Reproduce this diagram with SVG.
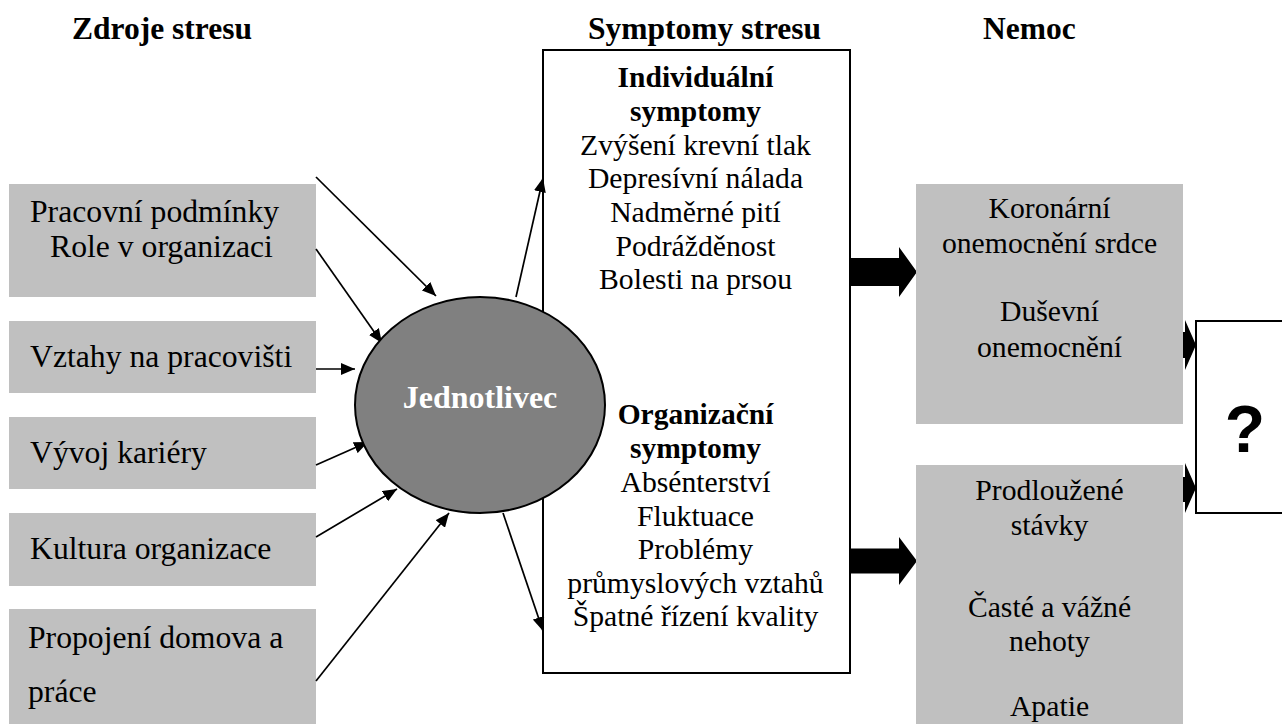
<svg xmlns="http://www.w3.org/2000/svg" width="1282" height="724" viewBox="0 0 1282 724">
<style>
.hdr{font-family:"Liberation Serif","Times New Roman",serif;font-weight:bold;font-size:31.5px;fill:#000}
.t{font-family:"Liberation Serif","Times New Roman",serif;font-size:29.7px;fill:#000}
.tl{font-family:"Liberation Serif","Times New Roman",serif;font-size:31.7px;fill:#000}
.tb{font-family:"Liberation Serif","Times New Roman",serif;font-size:29.5px;font-weight:bold;fill:#000}
.c{text-anchor:middle}
.gray{fill:#c0c0c0}
.ln{stroke:#000;stroke-width:1.7;fill:none}
.blk{fill:#000}
</style>
<defs>
<marker id="ah" viewBox="0 0 14 12" refX="14" refY="6" markerWidth="14" markerHeight="12" markerUnits="userSpaceOnUse" orient="auto">
<path d="M0,0 L14,6 L0,12 Z" fill="#000"/>
</marker>
</defs>
<rect width="1282" height="724" fill="#fff"/>
<g id="headers">
<text class="hdr" x="72" y="39">Zdroje stresu</text>
<text class="hdr" x="588" y="39">Symptomy stresu</text>
<text class="hdr" x="983" y="39">Nemoc</text>
</g>
<g id="symptoms">
<rect x="543" y="50" width="307" height="623" fill="#fff" stroke="#000" stroke-width="2"/>
<text class="tb c" x="695.5" y="87">Individuální</text>
<text class="tb c" x="695.5" y="120.5">symptomy</text>
<text class="t c" x="695.5" y="154.5">Zvýšení krevní tlak</text>
<text class="t c" x="695.5" y="188">Depresívní nálada</text>
<text class="t c" x="695.5" y="222">Nadměrné pití</text>
<text class="t c" x="695.5" y="255.5">Podrážděnost</text>
<text class="t c" x="695.5" y="289">Bolesti na prsou</text>
<text class="tb c" x="695.5" y="424">Organizační</text>
<text class="tb c" x="695.5" y="458">symptomy</text>
<text class="t c" x="695.5" y="492">Absénterství</text>
<text class="t c" x="695.5" y="526">Fluktuace</text>
<text class="t c" x="695.5" y="559">Problémy</text>
<text class="t c" x="695.5" y="593">průmyslových vztahů</text>
<text class="t c" x="695.5" y="626">Špatné řízení kvality</text>
</g>
<g id="src1"><rect class="gray" x="9" y="184" width="307" height="113"/>
<text class="tl" x="30" y="222">Pracovní podmínky</text>
<text class="tl" x="50" y="257">Role v organizaci</text></g>
<g id="src2"><rect class="gray" x="9" y="321" width="307" height="72"/>
<text class="tl" x="30" y="367">Vztahy na pracovišti</text></g>
<g id="src3"><rect class="gray" x="9" y="417" width="307" height="72"/>
<text class="tl" x="30" y="463">Vývoj kariéry</text></g>
<g id="src4"><rect class="gray" x="9" y="513" width="307" height="73"/>
<text class="tl" x="30" y="559">Kultura organizace</text></g>
<g id="src5"><rect class="gray" x="9" y="609" width="307" height="115"/>
<text class="tl" x="28" y="648">Propojení domova a</text>
<text class="tl" x="28" y="702">práce</text></g>
<g id="connectors">
<line class="ln" x1="316" y1="177" x2="436" y2="296" marker-end="url(#ah)"/>
<line class="ln" x1="316" y1="249" x2="382" y2="343" marker-end="url(#ah)"/>
<line class="ln" x1="316" y1="369" x2="355" y2="369" marker-end="url(#ah)"/>
<line class="ln" x1="316" y1="465" x2="368" y2="442" marker-end="url(#ah)"/>
<line class="ln" x1="316" y1="537" x2="397" y2="489" marker-end="url(#ah)"/>
<line class="ln" x1="316" y1="681" x2="449" y2="513" marker-end="url(#ah)"/>
<line class="ln" x1="516" y1="297" x2="543" y2="178" marker-end="url(#ah)"/>
<line class="ln" x1="503" y1="513" x2="543" y2="631" marker-end="url(#ah)"/>
<polygon class="blk" points="850,258 899,258 899,247 917,272 899,297 899,286 850,286"/>
<polygon class="blk" points="850,548.5 899,548.5 899,537 917,561 899,585 899,573.5 850,573.5"/>
<polygon class="blk" points="1155,332 1185,332 1185,320 1196,345 1185,370 1185,358 1155,358"/>
<polygon class="blk" points="1155,477 1185,477 1185,463 1196,488 1185,513 1185,502 1155,502"/>
</g>
<g id="individual">
<ellipse cx="480" cy="405" rx="125" ry="108" fill="#808080" stroke="#000" stroke-width="2"/>
<text x="480" y="408" text-anchor="middle" font-family="Liberation Serif, Times New Roman, serif" font-weight="bold" font-size="32" fill="#fff">Jednotlivec</text>
</g>
<g id="disease1"><rect class="gray" x="916" y="184" width="267" height="240"/>
<text class="t c" x="1049.5" y="218">Koronární</text>
<text class="t c" x="1049.5" y="253">onemocnění srdce</text>
<text class="t c" x="1049.5" y="321">Duševní</text>
<text class="t c" x="1049.5" y="357">onemocnění</text></g>
<g id="disease2"><rect class="gray" x="916" y="465" width="267" height="259"/>
<text class="t c" x="1049.5" y="500">Prodloužené</text>
<text class="t c" x="1049.5" y="535">stávky</text>
<text class="t c" x="1049.5" y="617">Časté a vážné</text>
<text class="t c" x="1049.5" y="651">nehoty</text>
<text class="t c" x="1049.5" y="716">Apatie</text></g>
<g id="question"><rect x="1196" y="321" width="100" height="192" fill="#fff" stroke="#000" stroke-width="2"/>
<text x="1245" y="452" text-anchor="middle" font-family="Liberation Sans, Arial, sans-serif" font-weight="bold" font-size="66">?</text></g>
</svg>
